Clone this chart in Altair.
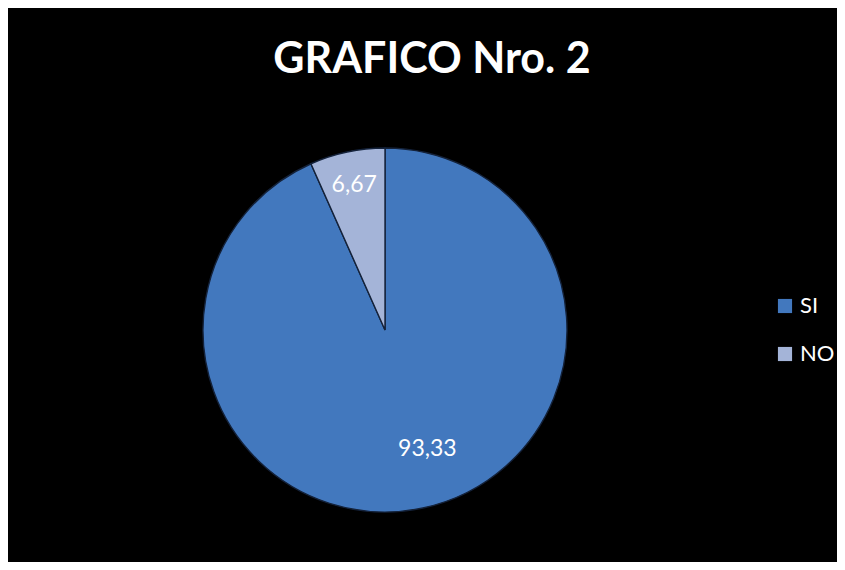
import altair as alt
import pandas as pd

categories = ["SI", "NO"]
values = [93.33, 6.67]
labels = ["93,33", "6,67"]

df = pd.DataFrame({"cat": categories, "val": values, "lab": labels, "order": [0, 1]})

color = alt.Color("cat:N", sort=categories,
                  scale=alt.Scale(domain=categories, range=["#4278be", "#a4b4d8"]),
                  legend=alt.Legend(title=None, orient="none", legendX=766, legendY=287,
                                    symbolType="square", symbolSize=200, symbolStrokeWidth=0,
                                    labelColor="white", labelFontSize=22, labelFont="Lato",
                                    rowPadding=26, labelOffset=4))

base = alt.Chart(df).encode(
    theta=alt.Theta("val:Q", stack=True),
    order=alt.Order("order:Q"),
)

pie = base.mark_arc(outerRadius=182, stroke="#14223a", strokeWidth=1.4).encode(
    color=color,
    x=alt.value(377), y=alt.value(322),
)

txt_no = base.mark_text(radius=148, fontSize=23, font="Lato", color="white").encode(
    text="lab:N", x=alt.value(377), y=alt.value(322),
    opacity=alt.condition(alt.datum.cat == "NO", alt.value(1), alt.value(0)),
)
txt_si = base.mark_text(radius=122, fontSize=23, font="Lato", color="white", dx=17).encode(
    text="lab:N", x=alt.value(377), y=alt.value(322),
    opacity=alt.condition(alt.datum.cat == "SI", alt.value(1), alt.value(0)),
)

title = alt.Chart(pd.DataFrame({"t": ["GRAFICO Nro. 2"]})).mark_text(
    font="Lato", fontSize=43, fontWeight="bold", color="white", baseline="middle"
).encode(text="t:N", x=alt.value(424), y=alt.value(52))

chart = alt.layer(pie, txt_no, txt_si, title).properties(
    width=829, height=554, padding=0, background="black",
    autosize=alt.AutoSizeParams(type="none"),
).configure_view(stroke=None)

chart.save("out.html", embed_options={"renderer": "svg", "actions": False})
